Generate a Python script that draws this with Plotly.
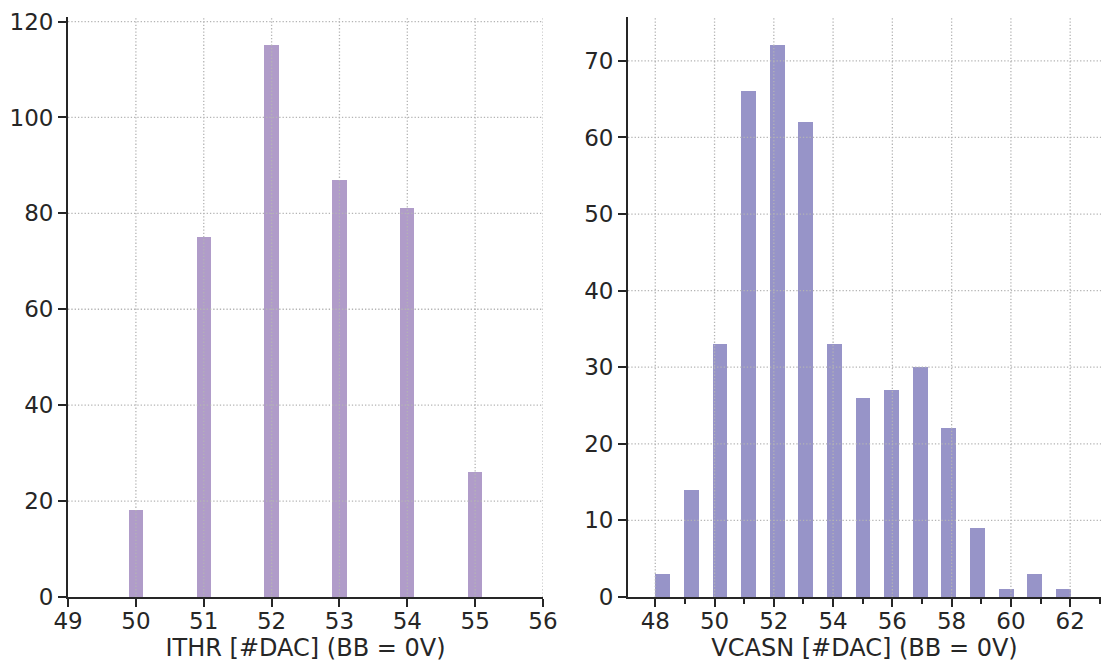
import numpy as np
import plotly.graph_objects as go

# ---- data ----
ithr_dac = [50, 51, 52, 53, 54, 55]
ithr_counts = [18, 75, 115, 87, 81, 26]

vcasn_dac = [48, 49, 50, 51, 52, 53, 54, 55, 56, 57, 58, 59, 60, 61, 62]
vcasn_counts = [3, 14, 33, 66, 72, 62, 33, 26, 27, 30, 22, 9, 1, 3, 1]

ithr_xticks = [49, 50, 51, 52, 53, 54, 55, 56]
ithr_yticks = [0, 20, 40, 60, 80, 100, 120]
vcasn_xticks = [48, 50, 52, 54, 56, 58, 60, 62]
vcasn_yticks = [0, 10, 20, 30, 40, 50, 60, 70]

# histogram bin left edges for VCASN (15 bins)
vcasn_left = np.linspace(min(vcasn_dac), 61.52, len(vcasn_dac))

TXT = "#262626"
GRID = "#b4b4b4"
FONT = "DejaVu Sans"

fig = go.Figure()
fig.add_trace(go.Bar(x=ithr_dac, y=ithr_counts, width=0.21,
                     marker=dict(color="#b09cc9", line=dict(width=0)),
                     xaxis="x", yaxis="y", showlegend=False))
fig.add_trace(go.Bar(x=vcasn_left, y=vcasn_counts, width=0.5, offset=0,
                     marker=dict(color="#9794c8", line=dict(width=0)),
                     xaxis="x2", yaxis="y2", showlegend=False))

common = dict(showgrid=False, zeroline=False, showline=True, linecolor=TXT,
              linewidth=2, ticks="outside", ticklen=8, tickwidth=2,
              automargin=False,
              tickcolor=TXT, tickfont=dict(family=FONT, size=23, color=TXT))

xcommon = dict(ticklabelstandoff=-6)

fig.update_layout(
    width=1101, height=662,
    margin=dict(l=0, r=0, t=0, b=0),
    paper_bgcolor="white", plot_bgcolor="white",
    bargap=0,
    xaxis=dict(domain=[0.0618, 0.4932], range=[49, 56], tickvals=ithr_xticks,
               anchor="y",
               title=dict(text="ITHR [#DAC] (BB = 0V)", standoff=8,
                          font=dict(family=FONT, size=24, color=TXT)),
               **common, **xcommon),
    yaxis=dict(domain=[0.0982, 0.974], range=[0, 120.9], tickvals=ithr_yticks,
               anchor="x", **common),
    xaxis2=dict(domain=[0.5704, 1.0], range=[47.08, 63.04], tickvals=vcasn_xticks,
                anchor="y2",
                minor=dict(dtick=1, tick0=47, ticklen=5, tickwidth=2,
                           tickcolor=TXT, ticks="outside", showgrid=False),
                title=dict(text="VCASN [#DAC] (BB = 0V)", standoff=8,
                           font=dict(family=FONT, size=24, color=TXT)),
                **common, **xcommon),
    yaxis2=dict(domain=[0.0982, 0.974], range=[0, 75.7], tickvals=vcasn_yticks,
                anchor="x2", **common),
)

shapes = []
gl = dict(color=GRID, width=1.3, dash="1.3px,2px")
for v in ithr_xticks[1:]:
    shapes.append(dict(type="line", xref="x", yref="y domain", x0=v, x1=v,
                       y0=0, y1=1, line=gl, layer="above"))
for v in ithr_yticks[1:]:
    shapes.append(dict(type="line", xref="x domain", yref="y", x0=0, x1=1,
                       y0=v, y1=v, line=gl, layer="above"))
for v in vcasn_xticks:
    shapes.append(dict(type="line", xref="x2", yref="y2 domain", x0=v, x1=v,
                       y0=0, y1=1, line=gl, layer="above"))
for v in vcasn_yticks[1:]:
    shapes.append(dict(type="line", xref="x2 domain", yref="y2", x0=0, x1=1,
                       y0=v, y1=v, line=gl, layer="above"))
fig.update_layout(shapes=shapes)

fig.write_html("out.html", config={"displayModeBar": False},
               post_script="document.body.style.margin='0';document.body.style.overflow='hidden';")
